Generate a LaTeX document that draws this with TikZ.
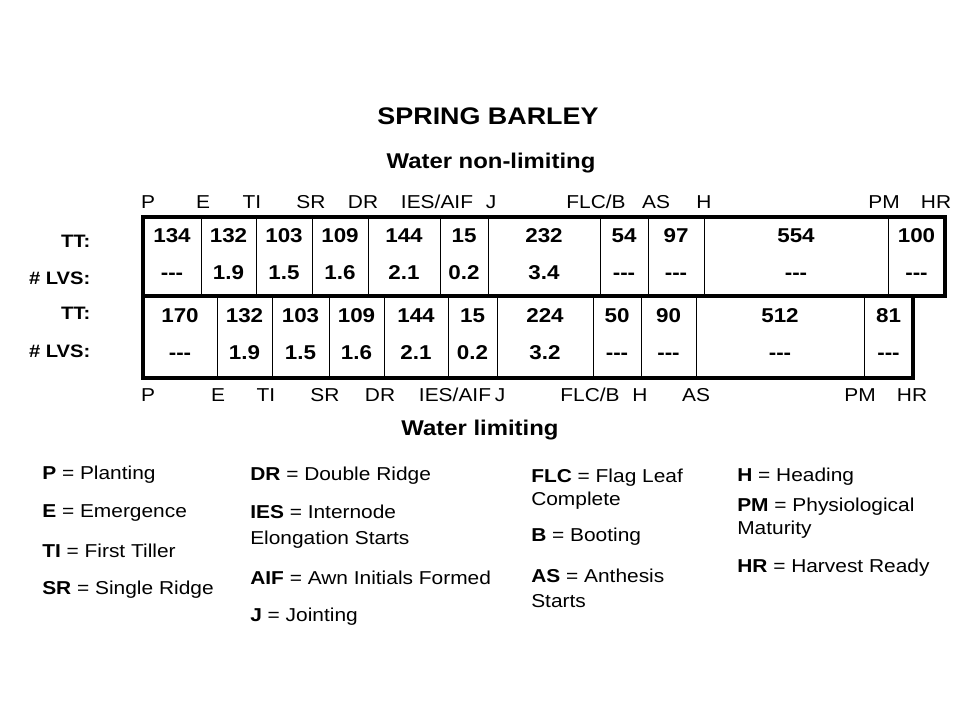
\documentclass[tikz,border=0pt]{standalone}
\usepackage{fontspec}
\setmainfont[FakeStretch=1.12]{Liberation Sans}
\newcommand\nolvs{-{}-{}-}
\begin{document}
\begin{tikzpicture}[x=0.75pt,y=-0.75pt,
  frame/.style={line width=2.3pt,line cap=rect},
  divider/.style={line width=0.75pt},
  lab/.style={font=\fontsize{14}{16}\selectfont},
  num/.style={font=\bfseries\fontsize{15}{17}\selectfont,text height=10.5pt,text depth=0pt},
  rowlab/.style={font=\bfseries\fontsize{13.5}{16}\selectfont,anchor=east},
  key/.style={font=\fontsize{14}{17.5}\selectfont,anchor=west,align=left,inner sep=0pt}]
\useasboundingbox (0,0) rectangle (960,720);
% titles
\node[font=\bfseries\fontsize{18}{20}\selectfont] (title) at (488,116) {SPRING BARLEY};
\node[font=\bfseries\fontsize{16}{18}\selectfont] (wet) at (491,163) {Water non-limiting};
\node[font=\bfseries\fontsize{16}{18}\selectfont] (dry) at (480,430) {Water limiting};
% row labels
\node[rowlab] (tt1) at (95,241) {TT:};
\node[rowlab] (lv1) at (95,278) {\# LVS:};
\node[rowlab] (tt2) at (95,313) {TT:};
\node[rowlab] (lv2) at (95,351) {\# LVS:};
% water non-limiting
\foreach \xl/\xr/\ttval/\lvval in {143/201/134/\nolvs,201/256/132/1.9,256/312/103/1.5,312/368/109/1.6,
  368/440/144/2.1,440/488/15/0.2,488/600/232/3.4,600/648/54/\nolvs,648/704/97/\nolvs,
  704/888/554/\nolvs,888/945/100/\nolvs}{
  \ifnum\xl>143 \draw[divider] (\xl,217)--(\xl,296); \fi
  \node[num] (a\xl) at ({(\xl+\xr)/2},236) {\ttval};
  \node[num] (b\xl) at ({(\xl+\xr)/2},273) {\lvval};
}
\draw[frame] (143,217) rectangle (945,296);
\foreach \st/\xs in {P/148,E/203,TI/252,SR/311,DR/363,IES\slash AIF/437,J/491,FLC\slash B/596,AS/656,H/704,PM/884,HR/936}
  \node[lab] (s\xs) at (\xs,202) {\st};
% water limiting
\foreach \xl/\xr/\ttval/\lvval in {143/217/170/\nolvs,217/272/132/1.9,272/329/103/1.5,329/384/109/1.6,
  384/448/144/2.1,448/497/15/0.2,497/593/224/3.2,593/641/50/\nolvs,641/696/90/\nolvs,
  696/864/512/\nolvs,864/913/81/\nolvs}{
  \ifnum\xl>143 \draw[divider] (\xl,296)--(\xl,378); \fi
  \node[num] (c\xl) at ({(\xl+\xr)/2},315) {\ttval};
  \node[num] (d\xl) at ({(\xl+\xr)/2},352) {\lvval};
}
\draw[frame] (143,296) -- (143,378) -- (913,378) -- (913,296);
\foreach \st/\xs in {P/148,E/218,TI/266,SR/325,DR/380,IES\slash AIF/455,J/500,FLC\slash B/590,H/640,AS/696,PM/860,HR/912}
  \node[lab] (t\xs) at (\xs,395) {\st};
% legend
\node[key] (kP) at (42,475) {\textbf{P} = Planting};
\node[key] (kE) at (42,513) {\textbf{E} = Emergence};
\node[key] (kTI) at (42,551) {\textbf{TI} = First Tiller};
\node[key] (kSR) at (42,590) {\textbf{SR} = Single Ridge};
\node[key] (kDR) at (250,476) {\textbf{DR} = Double Ridge};
\node[key] (kIES) at (250,527) {\textbf{IES} = Internode\\[2pt]Elongation Starts};
\node[key] (kAIF) at (250,578) {\textbf{AIF} = Awn Initials Formed};
\node[key] (kJ) at (250,617) {\textbf{J} = Jointing};
\node[key] (kFLC) at (531,489.5) {\textbf{FLC} = Flag Leaf\\Complete};
\node[key] (kB) at (531,537) {\textbf{B} = Booting};
\node[key] (kAS) at (531,588.5) {\textbf{AS} = Anthesis\\[1pt]Starts};
\node[key] (kH) at (737,477) {\textbf{H} = Heading};
\node[key] (kPM) at (737,518.5) {\textbf{PM} = Physiological\\Maturity};
\node[key] (kHR) at (737,568) {\textbf{HR} = Harvest Ready};
\end{tikzpicture}
\end{document}
